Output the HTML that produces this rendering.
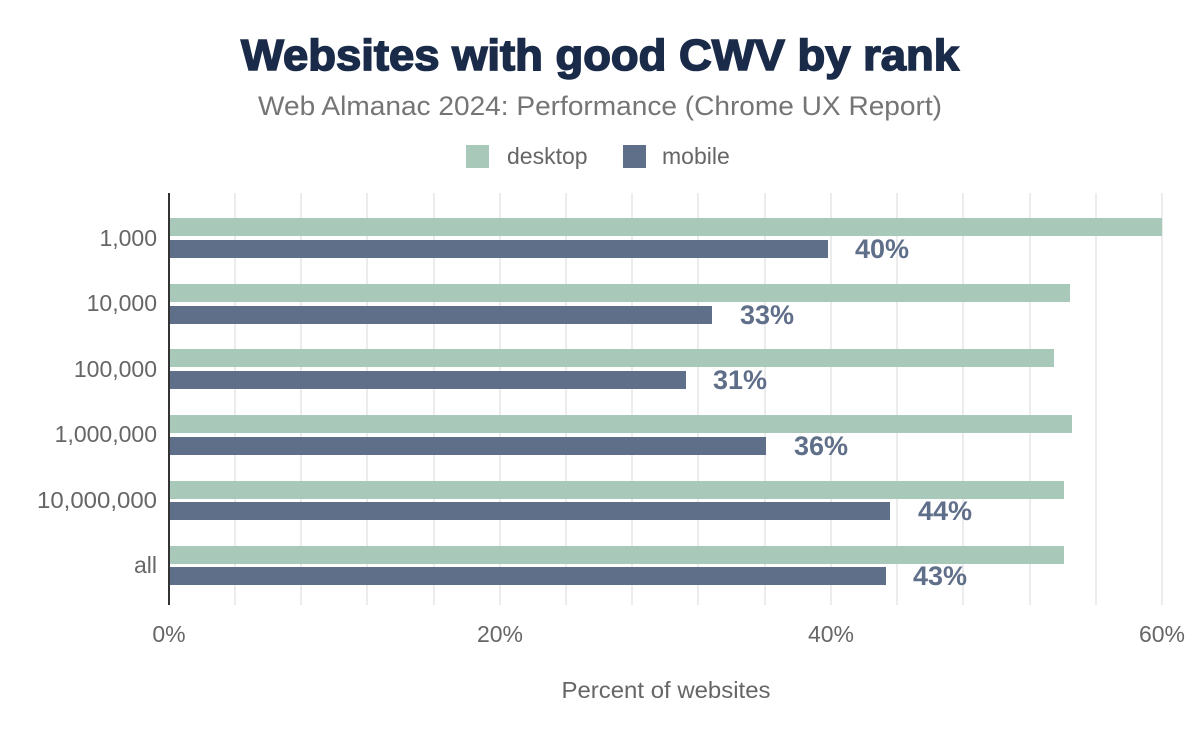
<!DOCTYPE html>
<html><head><meta charset="utf-8"><style>
body{margin:0;background:#fff}
svg{display:block;font-family:"Liberation Sans",Arial,sans-serif}
</style></head><body>
<svg width="1200" height="742" viewBox="0 0 1200 742">
<rect width="1200" height="742" fill="#fff"/>
<text x="600" y="70" text-anchor="middle" font-size="44" font-weight="bold" fill="#1a2b49" stroke="#1a2b49" stroke-width="1.6" textLength="718" lengthAdjust="spacingAndGlyphs">Websites with good CWV by rank</text>
<text x="600" y="115" text-anchor="middle" font-size="27" fill="#757575" textLength="684" lengthAdjust="spacingAndGlyphs">Web Almanac 2024: Performance (Chrome UX Report)</text>
<rect x="466" y="145" width="23" height="23" fill="#a8c9b9"/>
<text x="507" y="164" font-size="23" fill="#666">desktop</text>
<rect x="623" y="145" width="23" height="23" fill="#5f6f89"/>
<text x="662" y="164" font-size="23" fill="#666">mobile</text>
<g stroke="#ececec" stroke-width="2">
<line x1="235" y1="193" x2="235" y2="605"/><line x1="301" y1="193" x2="301" y2="605"/><line x1="367" y1="193" x2="367" y2="605"/><line x1="434" y1="193" x2="434" y2="605"/><line x1="500" y1="193" x2="500" y2="605"/><line x1="566" y1="193" x2="566" y2="605"/><line x1="632" y1="193" x2="632" y2="605"/><line x1="698" y1="193" x2="698" y2="605"/><line x1="765" y1="193" x2="765" y2="605"/><line x1="831" y1="193" x2="831" y2="605"/><line x1="897" y1="193" x2="897" y2="605"/><line x1="963" y1="193" x2="963" y2="605"/><line x1="1030" y1="193" x2="1030" y2="605"/><line x1="1096" y1="193" x2="1096" y2="605"/><line x1="1162" y1="193" x2="1162" y2="605"/>
</g>
<g fill="#a8c9b9">
<rect x="170" y="218" width="992" height="18"/>
<rect x="170" y="284" width="900" height="18"/>
<rect x="170" y="349" width="884" height="18"/>
<rect x="170" y="415" width="902" height="18"/>
<rect x="170" y="481" width="894" height="18"/>
<rect x="170" y="546" width="894" height="18"/>
</g>
<g fill="#5f6f89">
<rect x="170" y="240" width="658" height="18"/>
<rect x="170" y="306" width="542" height="18"/>
<rect x="170" y="371" width="516" height="18"/>
<rect x="170" y="437" width="596" height="18"/>
<rect x="170" y="502" width="720" height="18"/>
<rect x="170" y="567" width="716" height="18"/>
</g>
<g font-size="27" font-weight="bold" fill="#5f6f89">
<text x="855" y="258">40%</text>
<text x="740" y="324">33%</text>
<text x="713" y="389">31%</text>
<text x="794" y="455">36%</text>
<text x="918" y="520">44%</text>
<text x="913" y="585">43%</text>
</g>
<line x1="169" y1="193" x2="169" y2="605" stroke="#333" stroke-width="2"/>
<g font-size="23" fill="#666" text-anchor="end">
<text x="157" y="246">1,000</text>
<text x="157" y="311">10,000</text>
<text x="157" y="377">100,000</text>
<text x="157" y="442">1,000,000</text>
<text x="157" y="508" textLength="120" lengthAdjust="spacingAndGlyphs">10,000,000</text>
<text x="157" y="573">all</text>
</g>
<g font-size="23" fill="#666" text-anchor="middle">
<text x="169" y="642">0%</text>
<text x="500" y="642">20%</text>
<text x="831" y="642">40%</text>
<text x="1162" y="642">60%</text>
</g>
<text x="666" y="698" text-anchor="middle" font-size="23" fill="#666" textLength="209" lengthAdjust="spacingAndGlyphs">Percent of websites</text>
</svg>
</body></html>
